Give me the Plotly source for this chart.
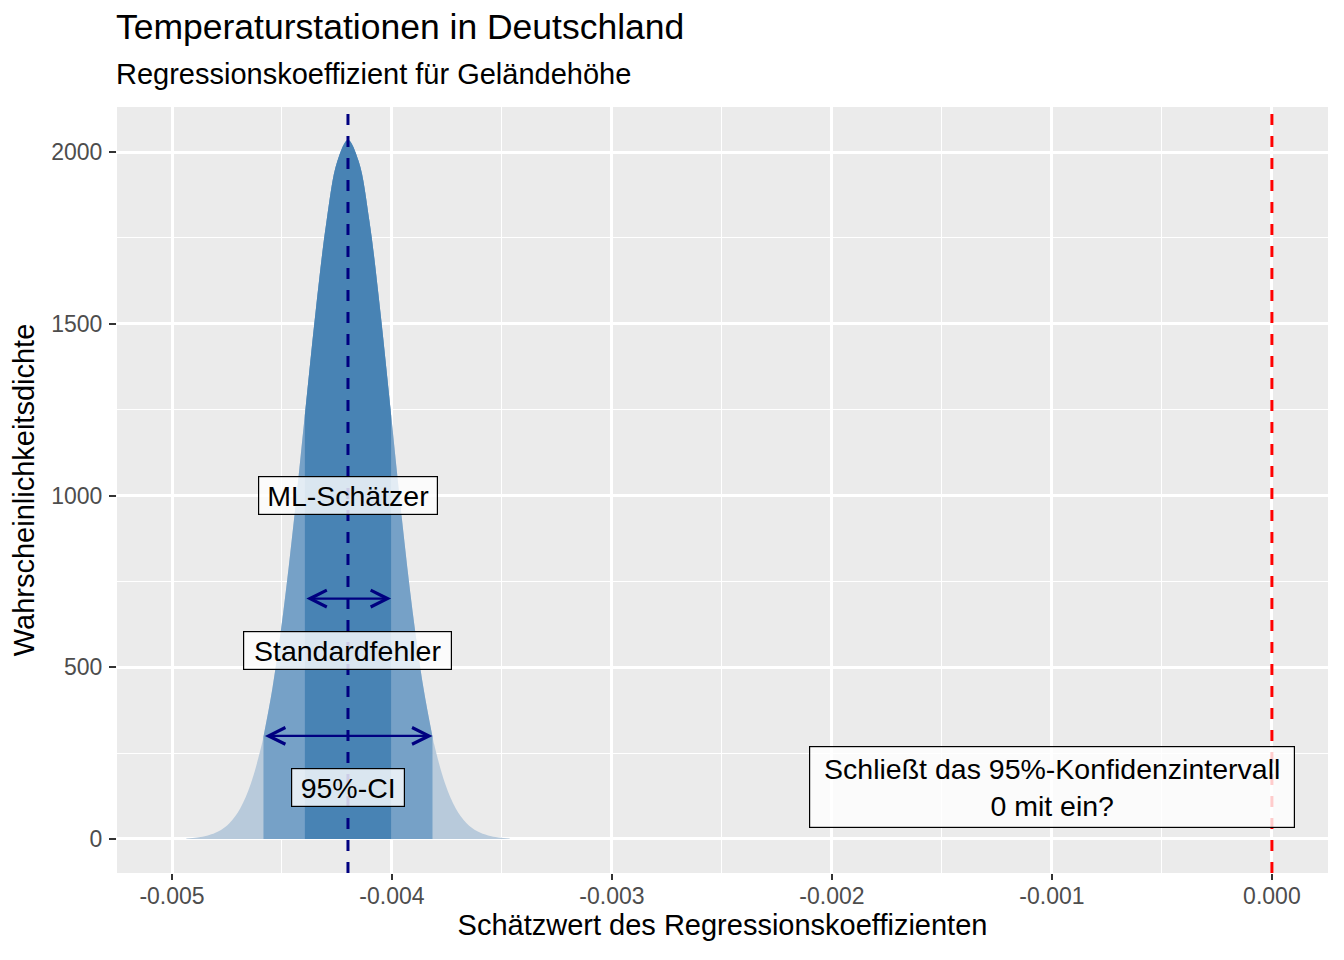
import plotly.graph_objects as go

# ---- data ----
coef_x = [-0.004935, -0.004886, -0.004837, -0.004788, -0.004739, -0.00469, -0.004641,
          -0.004592, -0.0045842, -0.004543, -0.004494, -0.004445, -0.004396, -0.004347,
          -0.004298, -0.004249, -0.0042, -0.004151, -0.004102, -0.004053, -0.004004,
          -0.003955, -0.003906, -0.003857, -0.0038158, -0.003808, -0.003759, -0.00371,
          -0.003661, -0.003612, -0.003563, -0.003514, -0.003465]
density = [1.8, 4.5, 10.4, 22.6, 46, 89, 162,
           275, 298, 440, 661, 932, 1234, 1536,
           1796, 1972, 2035, 1972, 1796, 1536, 1234,
           932, 661, 440, 298, 275, 162, 89,
           46, 22.6, 10.4, 4.5, 1.8]

ml_estimate = -0.0042
null_value = 0.0
se_bounds = [-0.004396, -0.004004]
ci_bounds = [-0.0045842, -0.0038158]
arrow_heights = {"se": 700, "ci": 300}

label_texts = ["ML-Schätzer", "Standardfehler", "95%-CI"]
label_y = [1000, 550, 150]
question_text = "Schließt das 95%-Konfidenzintervall<br>0 mit ein?"
question_pos = (-0.001, 150)

x_tickvals = [-0.005, -0.004, -0.003, -0.002, -0.001, 0.0]
x_ticktext = ["-0.005", "-0.004", "-0.003", "-0.002", "-0.001", "0.000"]
x_minor = [-0.0045, -0.0035, -0.0025, -0.0015, -0.0005]
y_tickvals = [0, 500, 1000, 1500, 2000]
y_ticktext = ["0", "500", "1000", "1500", "2000"]
y_minor = [250, 750, 1250, 1750]

FONT = "Liberation Sans, Arial, sans-serif"


def band(lo, hi):
    pts = [(x, y) for x, y in zip(coef_x, density) if lo - 1e-12 <= x <= hi + 1e-12]
    return [p[0] for p in pts], [p[1] for p in pts]


fig = go.Figure()
for (lo, hi), col in [((coef_x[0], coef_x[-1]), "#B8CADB"),
                      (tuple(ci_bounds), "#76A1C7"),
                      (tuple(se_bounds), "#4883B4")]:
    bx, by = band(lo, hi)
    fig.add_trace(go.Scatter(x=bx, y=by, mode="lines", fill="tozeroy",
                             fillcolor=col, line=dict(width=0, color=col, shape="spline"),
                             hoverinfo="skip", showlegend=False))

# vertical dashed lines
fig.add_shape(type="line", xref="x", yref="paper", x0=ml_estimate, x1=ml_estimate,
              y0=0, y1=1, line=dict(color="#000080", width=3, dash="11px,11px"))
fig.add_shape(type="line", xref="x", yref="paper", x0=null_value, x1=null_value,
              y0=0, y1=1, line=dict(color="#FF0000", width=3, dash="11px,11px"))

# double arrows
for bounds, yv in [(se_bounds, arrow_heights["se"]), (ci_bounds, arrow_heights["ci"])]:
    fig.add_annotation(x=bounds[1], y=yv, ax=bounds[0], ay=yv, xref="x", yref="y",
                       axref="x", ayref="y", text="", showarrow=True,
                       arrowside="end+start", arrowhead=5, startarrowhead=5,
                       arrowsize=1.5, startarrowsize=1.5, arrowwidth=2.2,
                       arrowcolor="#000080", standoff=0, startstandoff=0)

# labels
label_widths = [178, 207, 112]
for txt, yv, w in zip(label_texts, label_y, label_widths):
    fig.add_annotation(x=ml_estimate, y=yv, xref="x", yref="y", text=txt,
                       showarrow=False, font=dict(family=FONT, size=28.5, color="black"),
                       bgcolor="rgba(255,255,255,0.8)", bordercolor="black",
                       borderwidth=1.2, borderpad=0, width=w, height=37,
                       xanchor="center", yanchor="middle")

fig.add_annotation(x=question_pos[0], y=question_pos[1], xref="x", yref="y",
                   text=question_text, showarrow=False,
                   font=dict(family=FONT, size=28.5, color="black"),
                   bgcolor="rgba(255,255,255,0.8)", bordercolor="black",
                   borderwidth=1.2, borderpad=0, width=484, height=80,
                   xanchor="center", yanchor="middle")

# title & subtitle
fig.add_annotation(x=-0.0025, y=1.1044, xref="paper", yref="paper", xanchor="left",
                   yanchor="middle", text="Temperaturstationen in Deutschland",
                   showarrow=False, font=dict(family=FONT, size=35.5, color="black"))
fig.add_annotation(x=-0.0025, y=1.0431, xref="paper", yref="paper", xanchor="left",
                   yanchor="middle", text="Regressionskoeffizient für Geländehöhe",
                   showarrow=False, font=dict(family=FONT, size=29, color="black"))

fig.update_layout(
    width=1328, height=944,
    margin=dict(l=109, r=8, t=99, b=79),
    paper_bgcolor="white", plot_bgcolor="#EBEBEB",
    showlegend=False,
    font=dict(family=FONT),
    xaxis=dict(range=[-0.00525, 0.000255], tickvals=x_tickvals, ticktext=x_ticktext,
               showgrid=True, gridcolor="white", gridwidth=2.5, zeroline=False,
               ticks="outside", ticklen=6, tickwidth=2, tickcolor="#333333",
               ticklabelstandoff=-4,
               tickfont=dict(family=FONT, size=23, color="#4D4D4D"),
               minor=dict(tickvals=x_minor, showgrid=True, gridcolor="white", gridwidth=1.3, ticks=""),
               title=dict(text="Schätzwert des Regressionskoeffizienten",
                          font=dict(family=FONT, size=29, color="black"), standoff=7),
               showline=False, automargin=False),
    yaxis=dict(range=[-99, 2131], tickvals=y_tickvals, ticktext=y_ticktext,
               showgrid=True, gridcolor="white", gridwidth=2.5, zeroline=False,
               ticks="outside", ticklen=7, tickwidth=2, tickcolor="#333333",
               ticklabelstandoff=2,
               tickfont=dict(family=FONT, size=23, color="#4D4D4D"),
               minor=dict(tickvals=y_minor, showgrid=True, gridcolor="white", gridwidth=1.3, ticks=""),
               title=dict(text="Wahrscheinlichkeitsdichte",
                          font=dict(family=FONT, size=29, color="black"), standoff=8),
               showline=False, automargin=False),
)

fig.write_html("out.html")
